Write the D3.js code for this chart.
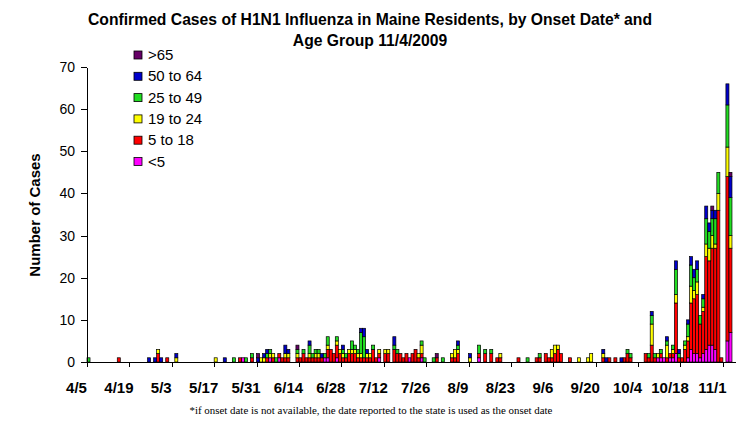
<!DOCTYPE html>
<html>
<head>
<meta charset="utf-8">
<script src="https://cdn.jsdelivr.net/npm/d3@7"></script>
<style>
  body { margin: 0; background: #fff; }
  svg { font-family: "Liberation Sans", Arial, sans-serif; }
  .axis path, .axis line { stroke: #000; shape-rendering: crispEdges; }
  .axis text { fill: #000; }
</style>
</head>
<body>
<div id="chart"></div>
<script>
// daily case counts from 4/5/2009, one row per two weeks
var under5 = [
  0,0,0,0,0,0,0,0,0,0,0,0,0,0,
  0,0,0,0,0,0,0,0,0,0,0,0,0,0,
  0,0,0,0,0,0,0,0,0,0,0,0,0,0,
  0,0,0,0,0,0,0,0,0,1,0,0,0,0,
  0,0,0,0,1,0,0,1,0,0,0,0,0,0,
  0,0,0,0,0,0,0,0,1,1,0,0,1,0,
  0,0,0,0,0,0,0,0,0,0,0,0,1,0,
  0,0,0,0,0,0,0,0,1,0,0,0,1,0,
  0,0,0,0,0,0,0,0,0,0,0,0,0,0,
  0,0,0,1,0,0,0,0,0,0,0,0,0,0,
  0,0,0,0,0,0,0,0,0,0,0,0,0,0,
  0,0,0,0,0,0,0,0,0,0,0,0,0,0,
  0,0,0,0,0,0,0,0,0,0,0,0,0,0,
  0,0,0,0,0,0,1,1,1,0,1,1,2,0,
  0,0,1,3,2,2,1,2,3,4,4,3,0,0,
  0,5,7,0
];
var age5to18 = [
  0,0,0,0,0,0,0,0,0,0,1,0,0,0,
  0,0,0,0,0,0,0,0,0,2,0,0,1,0,
  0,0,0,0,0,0,0,0,0,0,0,0,0,0,
  0,0,0,0,0,0,0,0,1,0,0,0,1,0,
  0,0,0,1,0,1,0,1,1,1,1,0,0,1,
  1,2,1,1,1,1,1,1,0,2,3,2,3,2,
  1,1,2,2,2,1,1,1,1,1,3,1,1,0,
  2,2,0,3,2,2,1,2,0,2,3,1,1,0,
  0,0,0,1,0,0,0,0,1,1,2,0,0,0,
  0,0,0,1,0,2,0,2,0,1,1,0,0,0,
  0,0,1,0,0,0,0,0,1,1,0,2,1,1,
  2,3,2,0,0,1,0,0,0,0,0,0,0,0,
  0,0,1,0,1,0,1,0,0,1,2,1,0,0,
  0,0,2,1,4,1,0,1,0,1,1,1,12,1,
  1,3,4,11,13,14,8,10,22,20,23,24,36,1,
  0,39,20,0
];
var age19to24 = [
  0,0,0,0,0,0,0,0,0,0,0,0,0,0,
  0,0,0,0,0,0,0,0,0,1,0,0,0,0,
  0,1,0,0,0,0,0,0,0,0,0,0,0,0,
  1,0,0,0,0,0,0,0,0,0,0,0,0,0,
  0,1,1,0,1,1,0,0,0,1,1,0,0,1,
  0,0,0,1,0,1,1,0,0,1,0,0,1,1,
  1,0,1,1,1,1,1,0,1,1,0,0,1,0,
  1,1,0,0,0,0,0,0,0,0,0,1,2,0,
  0,0,0,0,0,0,0,0,1,2,1,0,0,0,
  1,0,0,0,0,0,0,0,0,0,1,0,0,0,
  0,0,0,0,0,0,0,0,0,0,0,0,0,2,
  2,1,0,0,0,0,0,0,1,0,0,1,2,0,
  0,0,1,0,0,0,0,0,0,0,0,0,0,0,
  0,0,0,0,5,0,1,0,0,3,0,1,2,0,
  0,1,1,4,2,3,0,1,3,3,3,1,4,0,
  0,7,3,0
];
var age25to49 = [
  1,0,0,0,0,0,0,0,0,0,0,0,0,0,
  0,0,0,0,0,0,0,0,0,0,0,0,0,0,
  0,0,0,0,0,0,0,0,0,0,0,0,0,0,
  0,0,0,0,0,0,1,0,0,0,1,0,1,0,
  0,0,0,1,1,0,1,0,0,0,0,0,0,1,
  0,1,0,2,1,1,1,0,1,2,0,0,1,0,
  1,1,0,2,1,1,5,5,0,0,1,0,0,0,
  0,0,0,1,1,0,0,0,0,0,0,0,1,1,
  0,0,1,0,0,1,0,0,0,0,1,0,0,0,
  0,0,0,2,0,1,0,1,0,0,0,0,0,0,
  0,0,0,0,0,1,0,0,0,1,0,0,0,0,
  0,0,0,0,0,0,0,0,0,0,0,0,0,0,
  0,0,0,0,0,0,0,0,0,0,1,1,0,0,
  0,0,0,1,2,1,0,1,0,1,0,1,6,1,
  0,1,3,5,3,3,2,2,6,4,4,6,5,0,
  0,10,9,0
];
var age50to64 = [
  0,0,0,0,0,0,0,0,0,0,0,0,0,0,
  0,0,0,0,0,0,1,0,1,0,1,0,0,0,
  0,1,0,0,0,0,0,0,0,0,0,0,0,0,
  0,0,0,1,0,0,0,0,0,0,0,0,0,0,
  1,0,1,1,0,0,0,0,0,2,1,0,0,0,
  0,0,0,1,0,0,0,1,0,0,0,0,0,0,
  1,0,0,0,0,0,1,2,1,0,0,0,0,0,
  0,0,0,2,0,0,0,0,0,0,0,0,0,0,
  0,0,0,0,0,0,0,0,0,0,1,0,0,0,
  1,0,0,0,0,0,0,0,0,0,0,0,0,0,
  0,0,0,0,0,0,0,0,0,0,0,0,0,0,
  0,0,0,0,0,0,0,0,0,0,0,0,0,0,
  0,0,1,1,0,0,0,0,1,0,0,0,0,0,
  0,0,0,0,1,0,0,0,0,1,0,0,2,1,
  0,0,1,2,2,2,0,1,3,2,2,2,0,0,
  0,5,5,0
];
var over65 = [
  0,0,0,0,0,0,0,0,0,0,0,0,0,0,
  0,0,0,0,0,0,0,0,0,0,0,0,0,0,
  0,0,0,0,0,0,0,0,0,0,0,0,0,0,
  0,0,0,0,0,0,0,0,0,0,0,0,0,0,
  1,0,0,0,0,0,0,0,0,0,0,0,0,1,
  0,0,0,0,0,0,0,0,0,0,0,0,0,0,
  0,0,0,0,0,0,0,0,0,0,0,0,0,0,
  0,0,0,0,0,0,0,0,0,0,0,0,0,0,
  0,0,0,1,0,0,0,0,0,0,0,0,0,0,
  0,0,0,0,0,0,0,0,0,0,0,0,0,0,
  0,0,0,0,0,0,0,0,0,0,0,0,0,0,
  0,0,0,0,0,0,0,0,0,0,0,0,0,0,
  0,0,0,0,0,0,0,0,0,0,0,0,0,0,
  0,0,0,0,0,0,0,0,0,0,0,0,0,0,
  0,0,0,0,0,0,0,0,0,0,1,0,0,0,
  0,0,1,0
];

var tickLabels = ["4/5","4/19","5/3","5/17","5/31","6/14","6/28","7/12",
                  "7/26","8/9","8/23","9/6","9/20","10/4","10/18","11/1"];

var groups = [
  {key: "under5",    name: "<5",       color: "#ff00ff", values: under5},
  {key: "age5to18",  name: "5 to 18",  color: "#ff0000", values: age5to18},
  {key: "age19to24", name: "19 to 24", color: "#ffff00", values: age19to24},
  {key: "age25to49", name: "25 to 49", color: "#22dd22", values: age25to49},
  {key: "age50to64", name: "50 to 64", color: "#0000cc", values: age50to64},
  {key: "over65",    name: ">65",      color: "#660066", values: over65}
];

var W = 745, H = 424;
var plot = {left: 87, right: 735, top: 67, bottom: 362};

var svg = d3.select("#chart").append("svg")
    .attr("width", W)
    .attr("height", H);

var n = under5.length;
var start = new Date(2009, 3, 5);

// one row per day for d3.stack
var table = d3.range(n).map(function(i) {
    var row = {day: i, date: d3.timeDay.offset(start, i)};
    groups.forEach(function(g) { row[g.key] = g.values[i]; });
    return row;
});

var series = d3.stack()
    .keys(groups.map(function(g) { return g.key; }))(table);

var x = d3.scaleLinear()
    .domain([0, n])
    .range([plot.left, plot.right]);

var y = d3.scaleLinear()
    .domain([0, 70])
    .range([plot.bottom, plot.top]);

var colorOf = {};
groups.forEach(function(g) { colorOf[g.key] = g.color; });

svg.append("g")
    .selectAll("g")
    .data(series)
    .enter()
    .append("g")
    .attr("fill", function(s) { return colorOf[s.key]; })
    .selectAll("rect")
    .data(function(s) { return s.filter(function(d) { return d[1] > d[0]; }); })
    .enter()
    .append("rect")
    .attr("x", function(d) { return x(d.data.day); })
    .attr("width", function(d) { return x(d.data.day + 1) - x(d.data.day); })
    .attr("y", function(d) { return y(d[1]); })
    .attr("height", function(d) { return y(d[0]) - y(d[1]); })
    .attr("stroke", "#000")
    .attr("stroke-width", 0.7);

// y axis
var yAxis = d3.axisLeft(y)
    .tickValues(d3.range(0, 71, 10))
    .tickSize(6)
    .tickSizeOuter(0)
    .tickPadding(6);

svg.append("g")
    .attr("class", "y axis")
    .attr("transform", "translate(" + plot.left + ",0)")
    .call(yAxis)
    .selectAll("text")
    .style("font-size", "14px");

// x axis, ticks at every second week
var xAxis = d3.axisBottom(x)
    .tickValues(d3.range(0, n, 14))
    .tickFormat(function(d, i) { return tickLabels[i]; })
    .tickSize(5)
    .tickSizeOuter(0);

var gx = svg.append("g")
    .attr("class", "x axis")
    .attr("transform", "translate(0," + plot.bottom + ")")
    .call(xAxis);

gx.selectAll("text")
    .attr("x", -11)
    .attr("y", 20)
    .attr("dy", "0.71em")
    .style("font-size", "15px")
    .style("font-weight", "bold");

// title
var title = svg.append("text")
    .attr("text-anchor", "middle")
    .style("font-size", "15.7px")
    .style("font-weight", "bold");
title.append("tspan").attr("x", 370).attr("y", 25)
    .text("Confirmed Cases of H1N1 Influenza in Maine Residents, by Onset Date* and");
title.append("tspan").attr("x", 370).attr("y", 46)
    .text("Age Group 11/4/2009");

// y title
svg.append("text")
    .attr("transform", "translate(40,215) rotate(-90)")
    .attr("text-anchor", "middle")
    .style("font-size", "15px")
    .style("font-weight", "bold")
    .text("Number of Cases");

// legend, oldest group on top
var legend = svg.append("g")
    .selectAll("g")
    .data(groups.slice().reverse())
    .enter()
    .append("g")
    .attr("transform", function(d, i) { return "translate(134," + (51 + i * 21.3) + ")"; });

legend.append("rect")
    .attr("width", 8)
    .attr("height", 8)
    .attr("fill", function(d) { return d.color; })
    .attr("stroke", "#000")
    .attr("stroke-width", 0.8);

legend.append("text")
    .attr("x", 14)
    .attr("y", 9)
    .style("font-size", "15px")
    .text(function(d) { return d.name; });

// footnote
svg.append("text")
    .attr("x", 371)
    .attr("y", 414)
    .attr("text-anchor", "middle")
    .style("font-family", "'Liberation Serif', 'Times New Roman', serif")
    .style("font-size", "10.9px")
    .text("*if onset date is not available, the date reported to the state is used as the onset date");
</script>
</body>
</html>
